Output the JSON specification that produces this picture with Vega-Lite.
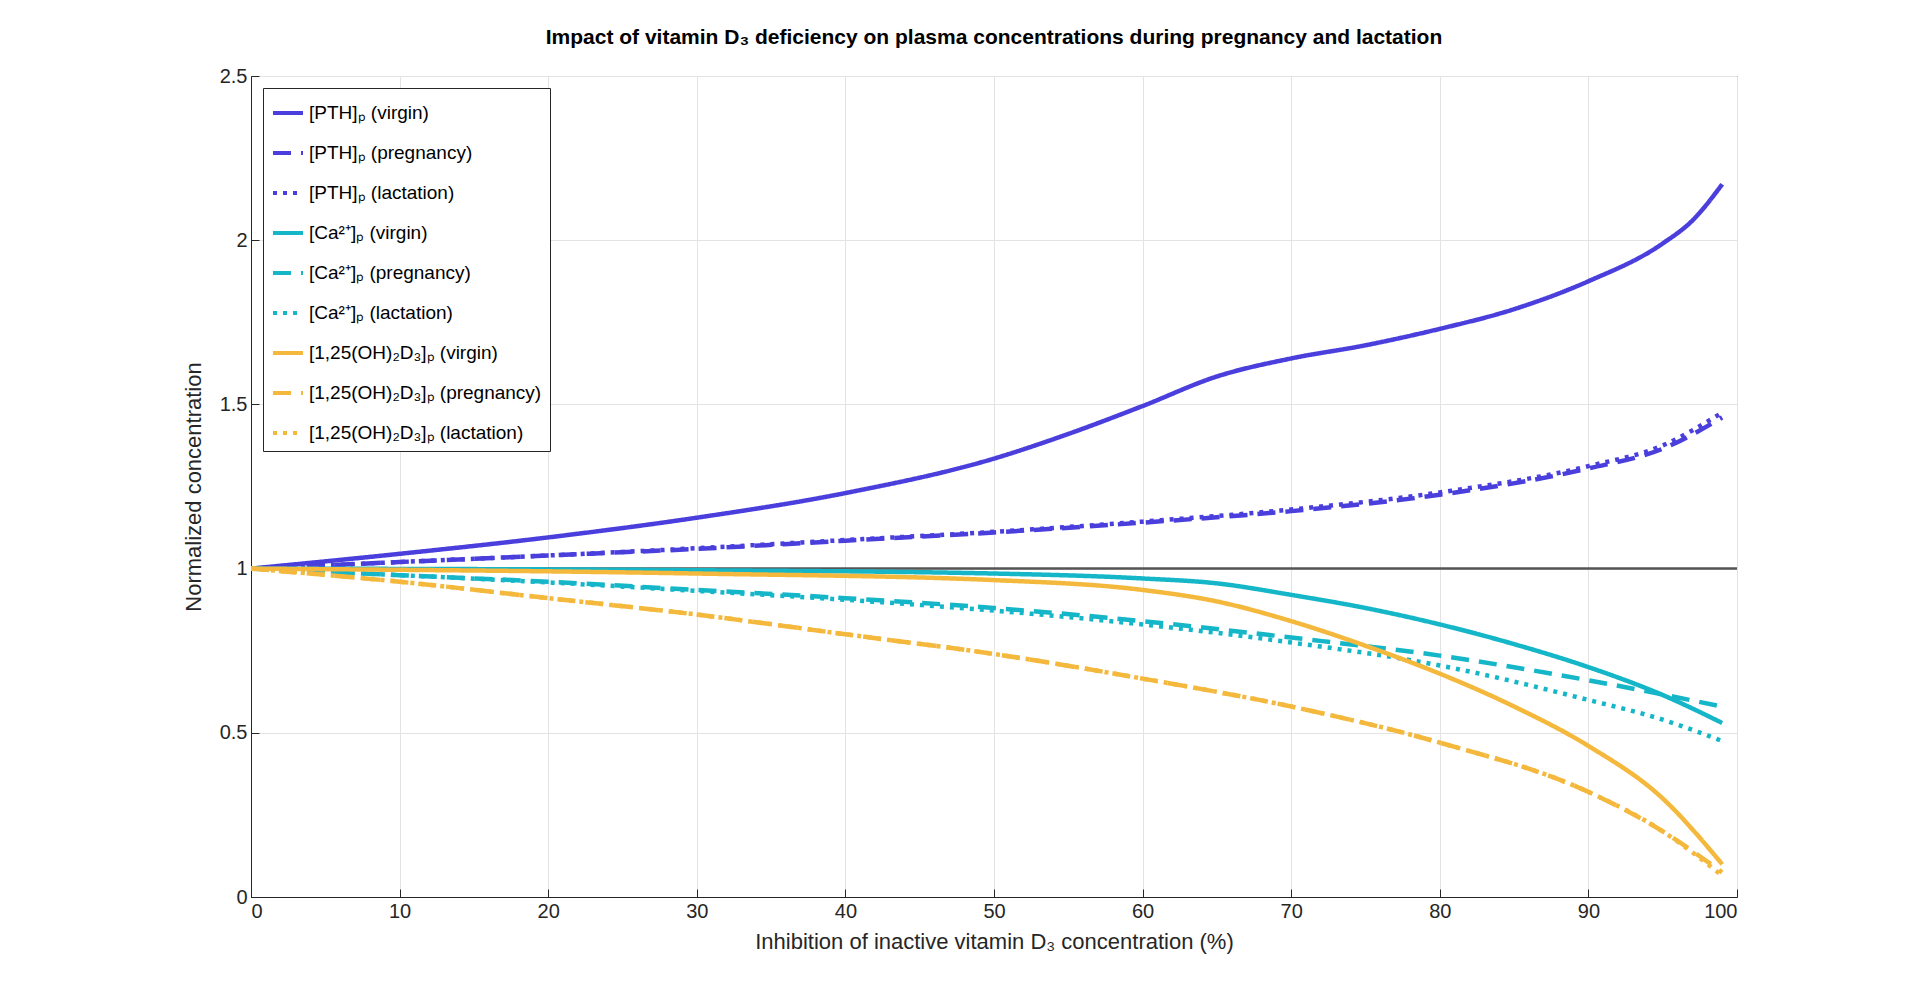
{
  "$schema": "https://vega.github.io/schema/vega-lite/v6.json",
  "width": 1486,
  "height": 821,
  "autosize": "none",
  "padding": {"left": 251, "top": 76, "right": 183, "bottom": 106},
  "background": "white",
  "config": {"font": "Liberation Sans", "view": {"stroke": "#262626"}},
  "title": {"text": "Impact of vitamin D₃ deficiency on plasma concentrations during pregnancy and lactation", "fontSize": 21, "fontWeight": "bold", "color": "#000", "offset": 18},
  "datasets": {
    "curves": [
      {"s": "[PTH]ₚ (virgin)", "x": 0, "y": 1}, {"s": "[PTH]ₚ (virgin)", "x": 10, "y": 1.045}, {"s": "[PTH]ₚ (virgin)", "x": 20, "y": 1.095}, {"s": "[PTH]ₚ (virgin)", "x": 30, "y": 1.155}, {"s": "[PTH]ₚ (virgin)", "x": 40, "y": 1.23}, {"s": "[PTH]ₚ (virgin)", "x": 50, "y": 1.335}, {"s": "[PTH]ₚ (virgin)", "x": 55, "y": 1.41}, {"s": "[PTH]ₚ (virgin)", "x": 60, "y": 1.495}, {"s": "[PTH]ₚ (virgin)", "x": 65, "y": 1.585}, {"s": "[PTH]ₚ (virgin)", "x": 70, "y": 1.64}, {"s": "[PTH]ₚ (virgin)", "x": 75, "y": 1.68}, {"s": "[PTH]ₚ (virgin)", "x": 80, "y": 1.73}, {"s": "[PTH]ₚ (virgin)", "x": 85, "y": 1.79}, {"s": "[PTH]ₚ (virgin)", "x": 90, "y": 1.875}, {"s": "[PTH]ₚ (virgin)", "x": 95, "y": 1.99}, {"s": "[PTH]ₚ (virgin)", "x": 97, "y": 2.06}, {"s": "[PTH]ₚ (virgin)", "x": 99, "y": 2.17},
      {"s": "[PTH]ₚ (pregnancy)", "x": 0, "y": 1}, {"s": "[PTH]ₚ (pregnancy)", "x": 10, "y": 1.02}, {"s": "[PTH]ₚ (pregnancy)", "x": 20, "y": 1.04}, {"s": "[PTH]ₚ (pregnancy)", "x": 30, "y": 1.06}, {"s": "[PTH]ₚ (pregnancy)", "x": 40, "y": 1.085}, {"s": "[PTH]ₚ (pregnancy)", "x": 50, "y": 1.11}, {"s": "[PTH]ₚ (pregnancy)", "x": 60, "y": 1.14}, {"s": "[PTH]ₚ (pregnancy)", "x": 70, "y": 1.175}, {"s": "[PTH]ₚ (pregnancy)", "x": 80, "y": 1.225}, {"s": "[PTH]ₚ (pregnancy)", "x": 90, "y": 1.305}, {"s": "[PTH]ₚ (pregnancy)", "x": 95, "y": 1.365}, {"s": "[PTH]ₚ (pregnancy)", "x": 99, "y": 1.46},
      {"s": "[PTH]ₚ (lactation)", "x": 0, "y": 1}, {"s": "[PTH]ₚ (lactation)", "x": 10, "y": 1.02}, {"s": "[PTH]ₚ (lactation)", "x": 20, "y": 1.04}, {"s": "[PTH]ₚ (lactation)", "x": 30, "y": 1.062}, {"s": "[PTH]ₚ (lactation)", "x": 40, "y": 1.087}, {"s": "[PTH]ₚ (lactation)", "x": 50, "y": 1.112}, {"s": "[PTH]ₚ (lactation)", "x": 60, "y": 1.143}, {"s": "[PTH]ₚ (lactation)", "x": 70, "y": 1.18}, {"s": "[PTH]ₚ (lactation)", "x": 80, "y": 1.232}, {"s": "[PTH]ₚ (lactation)", "x": 90, "y": 1.312}, {"s": "[PTH]ₚ (lactation)", "x": 95, "y": 1.375}, {"s": "[PTH]ₚ (lactation)", "x": 99, "y": 1.475},
      {"s": "[Ca²⁺]ₚ (virgin)", "x": 0, "y": 1}, {"s": "[Ca²⁺]ₚ (virgin)", "x": 30, "y": 0.995}, {"s": "[Ca²⁺]ₚ (virgin)", "x": 50, "y": 0.985}, {"s": "[Ca²⁺]ₚ (virgin)", "x": 60, "y": 0.97}, {"s": "[Ca²⁺]ₚ (virgin)", "x": 65, "y": 0.955}, {"s": "[Ca²⁺]ₚ (virgin)", "x": 70, "y": 0.92}, {"s": "[Ca²⁺]ₚ (virgin)", "x": 75, "y": 0.88}, {"s": "[Ca²⁺]ₚ (virgin)", "x": 80, "y": 0.83}, {"s": "[Ca²⁺]ₚ (virgin)", "x": 85, "y": 0.77}, {"s": "[Ca²⁺]ₚ (virgin)", "x": 90, "y": 0.7}, {"s": "[Ca²⁺]ₚ (virgin)", "x": 95, "y": 0.615}, {"s": "[Ca²⁺]ₚ (virgin)", "x": 99, "y": 0.53},
      {"s": "[Ca²⁺]ₚ (pregnancy)", "x": 0, "y": 1}, {"s": "[Ca²⁺]ₚ (pregnancy)", "x": 10, "y": 0.98}, {"s": "[Ca²⁺]ₚ (pregnancy)", "x": 20, "y": 0.96}, {"s": "[Ca²⁺]ₚ (pregnancy)", "x": 30, "y": 0.935}, {"s": "[Ca²⁺]ₚ (pregnancy)", "x": 40, "y": 0.91}, {"s": "[Ca²⁺]ₚ (pregnancy)", "x": 50, "y": 0.88}, {"s": "[Ca²⁺]ₚ (pregnancy)", "x": 60, "y": 0.84}, {"s": "[Ca²⁺]ₚ (pregnancy)", "x": 70, "y": 0.79}, {"s": "[Ca²⁺]ₚ (pregnancy)", "x": 80, "y": 0.735}, {"s": "[Ca²⁺]ₚ (pregnancy)", "x": 90, "y": 0.66}, {"s": "[Ca²⁺]ₚ (pregnancy)", "x": 99, "y": 0.58},
      {"s": "[Ca²⁺]ₚ (lactation)", "x": 0, "y": 1}, {"s": "[Ca²⁺]ₚ (lactation)", "x": 10, "y": 0.98}, {"s": "[Ca²⁺]ₚ (lactation)", "x": 20, "y": 0.958}, {"s": "[Ca²⁺]ₚ (lactation)", "x": 30, "y": 0.932}, {"s": "[Ca²⁺]ₚ (lactation)", "x": 40, "y": 0.905}, {"s": "[Ca²⁺]ₚ (lactation)", "x": 50, "y": 0.872}, {"s": "[Ca²⁺]ₚ (lactation)", "x": 60, "y": 0.83}, {"s": "[Ca²⁺]ₚ (lactation)", "x": 70, "y": 0.775}, {"s": "[Ca²⁺]ₚ (lactation)", "x": 80, "y": 0.705}, {"s": "[Ca²⁺]ₚ (lactation)", "x": 90, "y": 0.6}, {"s": "[Ca²⁺]ₚ (lactation)", "x": 95, "y": 0.54}, {"s": "[Ca²⁺]ₚ (lactation)", "x": 99, "y": 0.475},
      {"s": "[1,25(OH)₂D₃]ₚ (virgin)", "x": 0, "y": 1}, {"s": "[1,25(OH)₂D₃]ₚ (virgin)", "x": 30, "y": 0.985}, {"s": "[1,25(OH)₂D₃]ₚ (virgin)", "x": 50, "y": 0.965}, {"s": "[1,25(OH)₂D₃]ₚ (virgin)", "x": 60, "y": 0.935}, {"s": "[1,25(OH)₂D₃]ₚ (virgin)", "x": 65, "y": 0.9}, {"s": "[1,25(OH)₂D₃]ₚ (virgin)", "x": 70, "y": 0.84}, {"s": "[1,25(OH)₂D₃]ₚ (virgin)", "x": 75, "y": 0.765}, {"s": "[1,25(OH)₂D₃]ₚ (virgin)", "x": 80, "y": 0.68}, {"s": "[1,25(OH)₂D₃]ₚ (virgin)", "x": 85, "y": 0.58}, {"s": "[1,25(OH)₂D₃]ₚ (virgin)", "x": 90, "y": 0.46}, {"s": "[1,25(OH)₂D₃]ₚ (virgin)", "x": 95, "y": 0.3}, {"s": "[1,25(OH)₂D₃]ₚ (virgin)", "x": 99, "y": 0.1},
      {"s": "[1,25(OH)₂D₃]ₚ (pregnancy)", "x": 0, "y": 1}, {"s": "[1,25(OH)₂D₃]ₚ (pregnancy)", "x": 10, "y": 0.96}, {"s": "[1,25(OH)₂D₃]ₚ (pregnancy)", "x": 20, "y": 0.91}, {"s": "[1,25(OH)₂D₃]ₚ (pregnancy)", "x": 30, "y": 0.86}, {"s": "[1,25(OH)₂D₃]ₚ (pregnancy)", "x": 40, "y": 0.8}, {"s": "[1,25(OH)₂D₃]ₚ (pregnancy)", "x": 50, "y": 0.74}, {"s": "[1,25(OH)₂D₃]ₚ (pregnancy)", "x": 60, "y": 0.665}, {"s": "[1,25(OH)₂D₃]ₚ (pregnancy)", "x": 70, "y": 0.58}, {"s": "[1,25(OH)₂D₃]ₚ (pregnancy)", "x": 80, "y": 0.47}, {"s": "[1,25(OH)₂D₃]ₚ (pregnancy)", "x": 90, "y": 0.32}, {"s": "[1,25(OH)₂D₃]ₚ (pregnancy)", "x": 95, "y": 0.2}, {"s": "[1,25(OH)₂D₃]ₚ (pregnancy)", "x": 99, "y": 0.075},
      {"s": "[1,25(OH)₂D₃]ₚ (lactation)", "x": 0, "y": 1}, {"s": "[1,25(OH)₂D₃]ₚ (lactation)", "x": 10, "y": 0.96}, {"s": "[1,25(OH)₂D₃]ₚ (lactation)", "x": 20, "y": 0.91}, {"s": "[1,25(OH)₂D₃]ₚ (lactation)", "x": 30, "y": 0.86}, {"s": "[1,25(OH)₂D₃]ₚ (lactation)", "x": 40, "y": 0.8}, {"s": "[1,25(OH)₂D₃]ₚ (lactation)", "x": 50, "y": 0.74}, {"s": "[1,25(OH)₂D₃]ₚ (lactation)", "x": 60, "y": 0.665}, {"s": "[1,25(OH)₂D₃]ₚ (lactation)", "x": 70, "y": 0.58}, {"s": "[1,25(OH)₂D₃]ₚ (lactation)", "x": 80, "y": 0.47}, {"s": "[1,25(OH)₂D₃]ₚ (lactation)", "x": 90, "y": 0.32}, {"s": "[1,25(OH)₂D₃]ₚ (lactation)", "x": 95, "y": 0.2}, {"s": "[1,25(OH)₂D₃]ₚ (lactation)", "x": 99, "y": 0.065}
    ],
    "ref": [{"x": 0, "y": 1}, {"x": 100, "y": 1}]
  },
  "layer": [
    {
      "data": {"name": "ref"},
      "mark": {"type": "line", "color": "#555555", "strokeWidth": 2.5},
      "encoding": {
        "x": {"field": "x", "type": "quantitative"},
        "y": {"field": "y", "type": "quantitative"}
      }
    },
    {
      "data": {"name": "curves"},
      "mark": {"type": "line", "strokeWidth": 4.5, "clip": true, "interpolate": "monotone"},
      "encoding": {
        "x": {"field": "x", "type": "quantitative", "scale": {"domain": [0, 100], "nice": false},
          "axis": {"title": "Inhibition of inactive vitamin D₃ concentration (%)", "values": [0,10,20,30,40,50,60,70,80,90,100], "labelOverlap": false, "grid": true, "gridColor": "#e3e3e3", "labelFontSize": 20, "titleFontSize": 22, "titleFontWeight": "normal", "labelColor": "#262626", "titleColor": "#262626", "domainColor": "#262626", "tickColor": "#262626", "tickSize": -8, "labelPadding": 12, "titlePadding": 10}},
        "y": {"field": "y", "type": "quantitative", "scale": {"domain": [0, 2.5], "nice": false},
          "axis": {"title": "Normalized concentration", "values": [0, 0.5, 1, 1.5, 2, 2.5], "format": "~g", "labelOverlap": false, "grid": true, "gridColor": "#e3e3e3", "labelFontSize": 20, "titleFontSize": 22, "titleFontWeight": "normal", "labelColor": "#262626", "titleColor": "#262626", "domainColor": "#262626", "tickColor": "#262626", "tickSize": -8, "labelPadding": 12, "titlePadding": 14}},
        "color": {"field": "s", "type": "nominal",
          "scale": {
            "domain": ["[PTH]ₚ (virgin)", "[PTH]ₚ (pregnancy)", "[PTH]ₚ (lactation)", "[Ca²⁺]ₚ (virgin)", "[Ca²⁺]ₚ (pregnancy)", "[Ca²⁺]ₚ (lactation)", "[1,25(OH)₂D₃]ₚ (virgin)", "[1,25(OH)₂D₃]ₚ (pregnancy)", "[1,25(OH)₂D₃]ₚ (lactation)"],
            "range": ["#4a3fdc", "#4a3fdc", "#4a3fdc", "#16b6c9", "#16b6c9", "#16b6c9", "#f4b83c", "#f4b83c", "#f4b83c"]
          },
          "legend": {"title": null, "orient": "top-left", "offset": 12, "labelFontSize": 19, "labelColor": "#000", "symbolType": "stroke", "symbolSize": 900, "symbolStrokeWidth": 4, "rowPadding": 13, "padding": 8, "strokeColor": "#262626", "fillColor": "white", "labelLimit": 400}},
        "strokeDash": {"field": "s", "type": "nominal",
          "scale": {
            "domain": ["[PTH]ₚ (virgin)", "[PTH]ₚ (pregnancy)", "[PTH]ₚ (lactation)", "[Ca²⁺]ₚ (virgin)", "[Ca²⁺]ₚ (pregnancy)", "[Ca²⁺]ₚ (lactation)", "[1,25(OH)₂D₃]ₚ (virgin)", "[1,25(OH)₂D₃]ₚ (pregnancy)", "[1,25(OH)₂D₃]ₚ (lactation)"],
            "range": [[1, 0], [18, 10], [4, 6], [1, 0], [18, 10], [4, 6], [1, 0], [18, 10], [4, 6]]
          }}
      }
    }
  ]
}
